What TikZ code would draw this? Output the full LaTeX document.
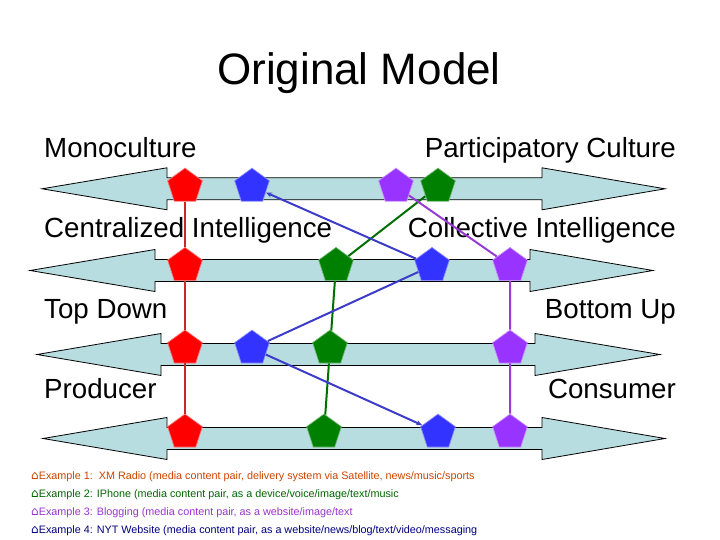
\documentclass[tikz,border=0pt]{standalone}
\usepackage{fontspec}
\setmainfont{Liberation Sans}
\newfontfamily\symfont{DejaVu Sans}
\usepackage{tikz}
\usetikzlibrary{positioning,arrows.meta,shapes.geometric}

\definecolor{bandfill}{RGB}{184,221,225}
\definecolor{penred}{RGB}{255,0,0}
\definecolor{penblue}{RGB}{51,51,255}
\definecolor{penpurple}{RGB}{153,51,255}
\definecolor{pengreen}{RGB}{0,128,0}
\definecolor{linered}{RGB}{200,40,40}
\definecolor{lineblue}{RGB}{60,60,200}
\definecolor{linegreen}{RGB}{0,110,0}
\definecolor{linepurple}{RGB}{150,60,210}
\definecolor{exred}{RGB}{204,68,0}
\definecolor{exgreen}{RGB}{0,102,0}
\definecolor{expurple}{RGB}{153,51,204}
\definecolor{exblue}{RGB}{0,0,128}

\begin{document}
\begin{tikzpicture}[x=1pt, y=-1pt, >={Stealth[length=6pt, width=5pt]},
    band/.style={draw=black, line width=0.8pt, fill=bandfill},
    pent/.style={regular polygon, regular polygon sides=5, minimum size=36.5pt,
        inner sep=0pt, line width=0.7pt, fill=#1, draw=#1!55!white},
    rowtext/.style={font=\fontsize{27.7}{30}\selectfont, inner sep=0pt},
    example/.style={font=\fontsize{10.8}{12}\selectfont, inner sep=0pt, anchor=base west},
    link/.style={line width=2pt}]

        \useasboundingbox (0,0) rectangle (720,540);

        % title
        \node[font=\fontsize{44}{48}\selectfont, anchor=base] (title) at (359,85) {Original Model};

        % double arrows
        \foreach \y/\xa/\xb/\xc/\xd in {188.8/42/167/542/665, 270.5/30/155/530/653,
                354.5/37/161/535/660, 438.5/43/167/542/665}
            \draw[band] (\xa,\y) -- (\xb,\y-21) -- (\xb,\y-11) -- (\xc,\y-11) -- (\xc,\y-21)
                -- (\xd,\y) -- (\xc,\y+21) -- (\xc,\y+11) -- (\xb,\y+11) -- (\xb,\y+21) -- cycle;

        % row labels
        \node[rowtext, anchor=base west] (mono) at (44,157.5) {Monoculture};
        \node[rowtext, anchor=base east] (partic) at (676,157.5) {Participatory Culture};
        \node[rowtext, anchor=base west] (central) at (44,237.5) {Centralized Intelligence};
        \node[rowtext, anchor=base east] (collect) at (676,237.5) {Collective Intelligence};
        \node[rowtext, anchor=base west] (topdown) at (44,318) {Top Down};
        \node[rowtext, anchor=base east] (bottomup) at (676,318) {Bottom Up};
        \node[rowtext, anchor=base west] (producer) at (44,398) {Producer};
        \node[rowtext, anchor=base east] (consumer) at (676,398) {Consumer};

        % pentagons, row 1
        \node[pent=penred] (r1) at (185,186.4) {};
        \node[pent=penblue] (b1) at (252,186.4) {};
        \node[pent=penpurple] (p1) at (396,186.4) {};
        \node[pent=pengreen] (g1) at (438,186.4) {};

        % pentagons, row 2
        \node[pent=penred] (r2) at (185,265.7) {};
        \node[pent=pengreen] (g2) at (336,265.7) {};
        \node[pent=penblue] (b2) at (432,265.7) {};
        \node[pent=penpurple] (p2) at (510,265.7) {};

        % pentagons, row 3
        \node[pent=penred] (r3) at (185,348.3) {};
        \node[pent=penblue] (b3) at (252,348.3) {};
        \node[pent=pengreen] (g3) at (330,348.3) {};
        \node[pent=penpurple] (p3) at (510,348.3) {};

        % pentagons, row 4
        \node[pent=penred] (r4) at (185,432.3) {};
        \node[pent=pengreen] (g4) at (324,432.3) {};
        \node[pent=penblue] (b4) at (438,432.3) {};
        \node[pent=penpurple] (p4) at (510,432.3) {};

        % connectors
        \draw[link, linered] (r1) -- (r2) (r2) -- (r3) (r3) -- (r4);
        \draw[link, linegreen] (g1) -- (g2) (g2) -- (g3) (g3) -- (g4);
        \draw[link, linepurple] (p1) -- (p2) (p2) -- (p3) (p3) -- (p4);
        \draw[link, lineblue, <-] (b1) -- (b2);
        \draw[link, lineblue] (b2) -- (b3);
        \draw[link, lineblue, ->] (b3) -- (b4);

        % examples
        \node[example, exred] (ex1) at (31,479) {{\symfont\fontsize{12}{12}\selectfont ⌂}Example 1:\ \ XM Radio (media content pair, delivery system via Satellite, news/music/sports};
        \node[example, exgreen] (ex2) at (31,497) {{\symfont\fontsize{12}{12}\selectfont ⌂}Example 2: IPhone (media content pair, as a device/voice/image/text/music};
        \node[example, expurple] (ex3) at (31,515) {{\symfont\fontsize{12}{12}\selectfont ⌂}Example 3: Blogging (media content pair, as a website/image/text};
        \node[example, exblue] (ex4) at (31,533) {{\symfont\fontsize{12}{12}\selectfont ⌂}Example 4: NYT Website (media content pair, as a website/news/blog/text/video/messaging};

    \end{tikzpicture}
\end{document}
